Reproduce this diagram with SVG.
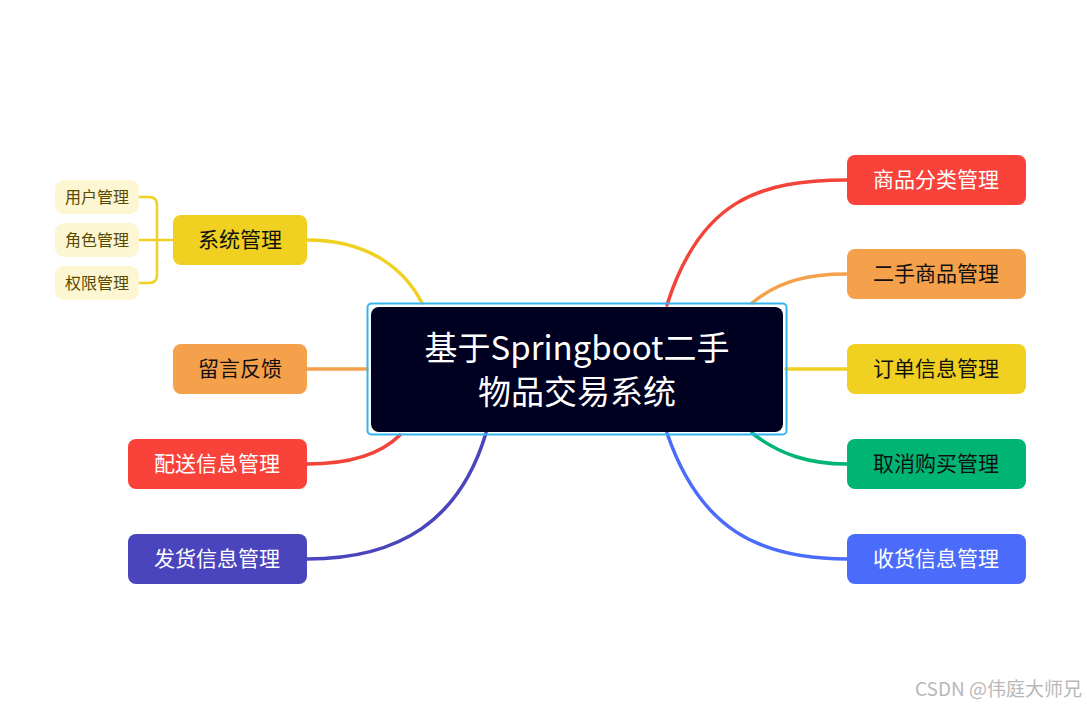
<svg xmlns="http://www.w3.org/2000/svg" width="1087" height="704" viewBox="0 0 1087 704">
<style>
text{font-family:"Noto Sans CJK SC","Noto Sans",sans-serif;text-anchor:middle;dominant-baseline:central}
.n{font-size:21px}
.s{font-size:16px;fill:#5a4a00}
.w{fill:#fff}
.k{fill:#111}
.c{fill:none;stroke-width:3.5;stroke-linecap:round}
</style>
<rect width="1087" height="704" fill="#fff"/>
<g id="connectors">
<path class="c" stroke="#f24438" d="M667,305 C700,200 760,180 847,180"/>
<path class="c" stroke="#f5a04a" d="M752,303 C780,280 810,274 847,274"/>
<path class="c" stroke="#f0d020" d="M786,369 H847"/>
<path class="c" stroke="#00b574" d="M752,433 C780,455 810,464 847,464"/>
<path class="c" stroke="#4b6bfa" d="M667,433 C700,530 760,559 847,559"/>
<path class="c" stroke="#f0d020" d="M307,240 C370,240 405,270 422,303"/>
<path class="c" stroke="#f5a04a" d="M307,369 H367"/>
<path class="c" stroke="#f24438" d="M307,464 C350,464 380,455 400,435"/>
<path class="c" stroke="#4b45bd" d="M307,559 C400,559 460,520 486,433"/>
<path fill="none" stroke="#f0d020" stroke-width="2.5" d="M139,197 H149 Q157,197 157,205 V275 Q157,283 149,283 H139 M139,240 H173"/>
</g>
<g id="center">
<rect x="367.5" y="303.5" width="419" height="131" rx="4" fill="none" stroke="#35b5f0" stroke-width="2"/>
<rect x="371" y="307" width="412" height="125" rx="8" fill="#000020"/>
<text x="577" y="346" class="w" style="font-size:33px">基于Springboot二手</text>
<text x="577" y="390" class="w" style="font-size:33px">物品交易系统</text>
</g>
<g id="n1"><rect x="847" y="155" width="179" height="50" rx="8" fill="#f9423a"/><text x="936" y="178" class="n w">商品分类管理</text></g>
<g id="n2"><rect x="847" y="249" width="179" height="50" rx="8" fill="#f5a04a"/><text x="936" y="272" class="n k">二手商品管理</text></g>
<g id="n3"><rect x="847" y="344" width="179" height="50" rx="8" fill="#f0d020"/><text x="936" y="367" class="n k">订单信息管理</text></g>
<g id="n4"><rect x="847" y="439" width="179" height="50" rx="8" fill="#00b574"/><text x="936" y="462" class="n k">取消购买管理</text></g>
<g id="n5"><rect x="847" y="534" width="179" height="50" rx="8" fill="#4b6bfa"/><text x="936" y="557" class="n w">收货信息管理</text></g>
<g id="n6"><rect x="173" y="215" width="134" height="50" rx="8" fill="#f0d020"/><text x="240" y="238" class="n k">系统管理</text></g>
<g id="n7"><rect x="173" y="344" width="134" height="50" rx="8" fill="#f5a04a"/><text x="240" y="367" class="n k">留言反馈</text></g>
<g id="n8"><rect x="128" y="439" width="179" height="50" rx="8" fill="#f9423a"/><text x="217" y="462" class="n w">配送信息管理</text></g>
<g id="n9"><rect x="128" y="534" width="179" height="50" rx="8" fill="#4b45bd"/><text x="217" y="557" class="n w">发货信息管理</text></g>
<g id="s1"><rect x="55" y="180" width="84" height="34" rx="9" fill="#fcf6d2"/><text x="97" y="196" class="s">用户管理</text></g>
<g id="s2"><rect x="55" y="223" width="84" height="34" rx="9" fill="#fcf6d2"/><text x="97" y="239" class="s">角色管理</text></g>
<g id="s3"><rect x="55" y="266" width="84" height="34" rx="9" fill="#fcf6d2"/><text x="97" y="282" class="s">权限管理</text></g>
<text x="1082" y="687" style="font-size:19px;fill:#b8b8b8;text-anchor:end">CSDN @伟庭大师兄</text>
</svg>
